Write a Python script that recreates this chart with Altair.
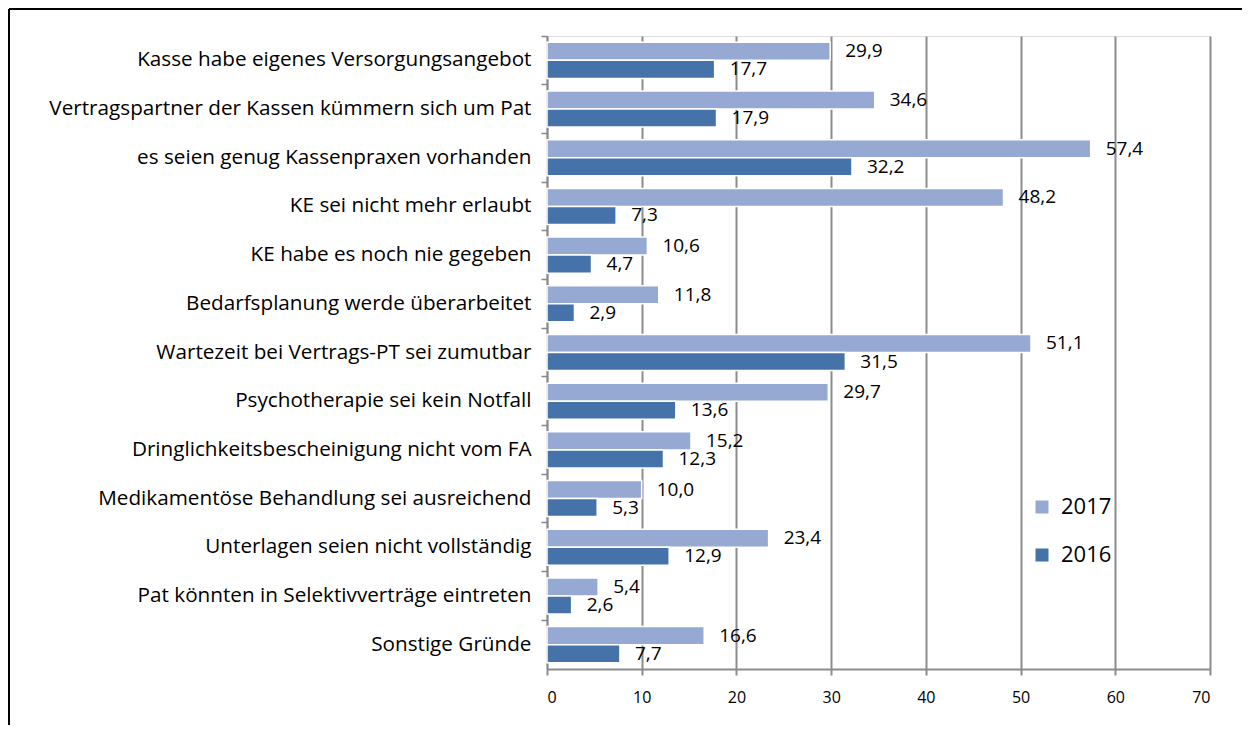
import altair as alt
import pandas as pd

categories = [
    "Kasse habe eigenes Versorgungsangebot",
    "Vertragspartner der Kassen kümmern sich um Pat",
    "es seien genug Kassenpraxen vorhanden",
    "KE sei nicht mehr erlaubt",
    "KE habe es noch nie gegeben",
    "Bedarfsplanung werde überarbeitet",
    "Wartezeit bei Vertrags-PT sei zumutbar",
    "Psychotherapie sei kein Notfall",
    "Dringlichkeitsbescheinigung nicht vom FA",
    "Medikamentöse Behandlung sei ausreichend",
    "Unterlagen seien nicht vollständig",
    "Pat könnten in Selektivverträge eintreten",
    "Sonstige Gründe",
]
values_2017 = [29.9, 34.6, 57.4, 48.2, 10.6, 11.8, 51.1, 29.7, 15.2, 10.0, 23.4, 5.4, 16.6]
values_2016 = [17.7, 17.9, 32.2, 7.3, 4.7, 2.9, 31.5, 13.6, 12.3, 5.3, 12.9, 2.6, 7.7]
series = ["2017", "2016"]
colors = ["#95A9D2", "#4572A8"]

rows = []
for c, a, b in zip(categories, values_2017, values_2016):
    rows.append({"cat": c, "year": "2017", "value": a})
    rows.append({"cat": c, "year": "2016", "value": b})
df = pd.DataFrame(rows)

FONT = "Open Sans"

y_enc = alt.Y("cat:N", sort=categories, title=None,
              scale=alt.Scale(paddingInner=0, paddingOuter=0),
              axis=alt.Axis(labelFontSize=20.7, labelFont=FONT, labelColor="#000",
                            tickSize=6, tickColor="#888", tickWidth=1.5,
                            domainColor="#888", domainWidth=1.5,
                            bandPosition=0, labelPadding=10, labelLimit=600))
yoff = alt.YOffset("year:N", sort=series,
                   scale=alt.Scale(paddingInner=0, paddingOuter=0.35))
x_enc = alt.X("value:Q", title=None,
              scale=alt.Scale(domain=[0, 70], nice=False),
              axis=alt.Axis(values=list(range(0, 71, 10)), labelFontSize=16, labelFont=FONT,
                            labelColor="#000", grid=True, gridColor="#8c8c8c", gridWidth=2,
                            tickSize=6, tickColor="#8c8c8c", tickWidth=2,
                            domainColor="#8c8c8c", domainWidth=2, labelPadding=14))

bars = alt.Chart(df).mark_bar(stroke="white", strokeWidth=1.5).encode(
    y=y_enc, yOffset=yoff, x=x_enc,
    color=alt.Color("year:N", sort=series,
                    scale=alt.Scale(domain=series, range=colors),
                    legend=alt.Legend(title=None, orient="none", legendX=484, legendY=460,
                                      symbolType="square", symbolSize=169,
                                      symbolStrokeWidth=0,
                                      labelFontSize=22, labelFont=FONT, labelColor="#000",
                                      rowPadding=26, labelOffset=8)),
)

labels = alt.Chart(df).transform_calculate(
    lab="replace(format(datum.value, '.1f'), '.', ',')"
).mark_text(align="left", baseline="middle", dx=15, fontSize=19, font=FONT, color="#000").encode(
    y=alt.Y("cat:N", sort=categories), yOffset=alt.YOffset("year:N", sort=series),
    x="value:Q", text="lab:N",
)

frame_l = alt.Chart(df).mark_rule(color="#000", strokeWidth=2).encode(
    x=alt.value(-538), y=alt.value(-27), y2=alt.value(720))
frame_t = alt.Chart(df).mark_rule(color="#000", strokeWidth=2).encode(
    x=alt.value(-538), x2=alt.value(720), y=alt.value(-27))

chart = alt.layer(bars, labels, frame_l, frame_t).properties(
    width=663, height=633,
    padding={"left": 539, "top": 28, "right": 32, "bottom": 56},
    autosize=alt.AutoSizeParams(type="none"),
).configure_view(stroke=None).configure(font=FONT)

chart.save("out.html", embed_options={"renderer": "svg", "actions": False})
